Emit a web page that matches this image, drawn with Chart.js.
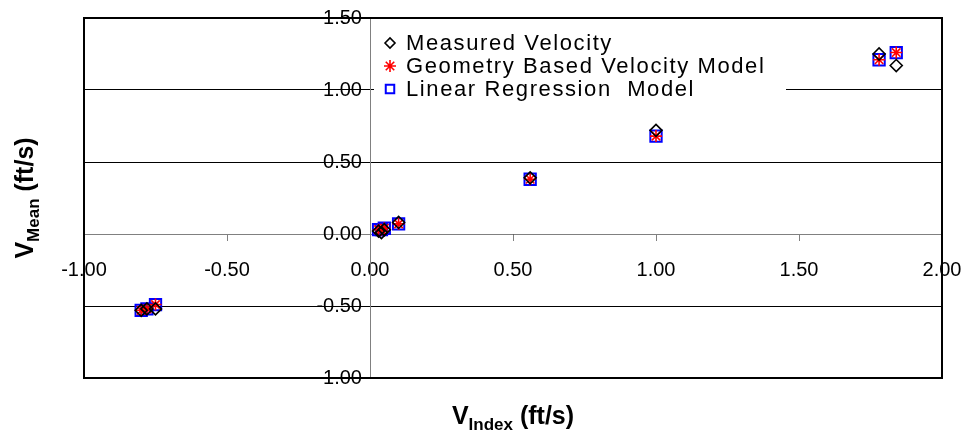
<!DOCTYPE html>
<html>
<head>
<meta charset="utf-8">
<script src="https://cdn.jsdelivr.net/npm/chart.js@4.4.0/dist/chart.umd.min.js"></script>
<style>
  html, body { margin: 0; padding: 0; background: #fff; }
  #wrap { width: 972px; height: 443px; }
</style>
</head>
<body>
<div id="wrap"><canvas id="c" width="972" height="443"></canvas></div>
<script>
// readings taken off the plot
const vIndex = [-0.80, -0.78, -0.75, 0.03, 0.04, 0.05, 0.10, 0.56, 1.00, 1.78, 1.84];
const measured = [-0.53, -0.52, -0.52, 0.02, 0.01, 0.03, 0.08, 0.39, 0.72, 1.25, 1.17];
const geometryModel = [-0.53, -0.52, -0.49, 0.03, 0.03, 0.04, 0.07, 0.38, 0.68, 1.21, 1.26];
const regressionModel = [-0.53, -0.52, -0.49, 0.03, 0.03, 0.04, 0.07, 0.38, 0.68, 1.21, 1.26];

const seriesNames = ['Measured Velocity', 'Geometry Based Velocity Model', 'Linear Regression  Model'];
const xTicks = [-1.0, -0.5, 0.0, 0.5, 1.0, 1.5, 2.0];
const yTicks = [-1.0, -0.5, 0.0, 0.5, 1.0, 1.5];

// pair up x and y readings
function pts(ys) {
  return vIndex.map((x, i) => ({ x: x, y: ys[i] }));
}

const FONT = '"Liberation Sans", Arial, sans-serif';

// keep label overflow from shrinking the plot area
function noPad(s) {
  s.paddingTop = 0; s.paddingBottom = 0; s.paddingLeft = 0; s.paddingRight = 0;
}

// frame round the plot, legend box and the two axis titles
const extras = {
  id: 'extras',
  afterDraw(chart) {
    const ctx = chart.ctx;
    const a = chart.chartArea;
    ctx.save();
    // plot frame
    ctx.strokeStyle = '#000';
    ctx.lineWidth = 2;
    ctx.strokeRect(a.left, a.top, a.right - a.left, a.bottom - a.top);

    // legend box
    ctx.fillStyle = '#fff';
    ctx.fillRect(374, 28, 412, 74);
    ctx.textBaseline = 'middle';
    ctx.textAlign = 'left';
    const rows = [43, 66, 89];
    chart.data.datasets.forEach((ds, i) => {
      const y = rows[i];
      ctx.fillStyle = 'rgba(0,0,0,0)';
      ctx.strokeStyle = ds.borderColor;
      ctx.lineWidth = ds.borderWidth;
      Chart.helpers.drawPoint(ctx, {
        pointStyle: ds.pointStyle,
        radius: ds.legendRadius,
        borderWidth: ds.borderWidth
      }, 390, y);
      ctx.fillStyle = '#000';
      ctx.font = '22px ' + FONT;
      ctx.letterSpacing = '1.6px';
      ctx.fillText(ds.label, 406, y + 1);
      ctx.letterSpacing = '0px';
    });

    // x axis title with subscript
    const midX = (a.left + a.right) / 2;
    const big = 'bold 25px ' + FONT;
    const small = 'bold 17px ' + FONT;
    ctx.fillStyle = '#000';
    ctx.textBaseline = 'alphabetic';
    ctx.font = big;
    const wV = ctx.measureText('V').width;
    const wT = ctx.measureText(' (ft/s)').width;
    ctx.font = small;
    const wS = ctx.measureText('Index').width;
    let x0 = midX - (wV + wS + wT) / 2;
    const base = 424;
    ctx.font = big; ctx.fillText('V', x0, base);
    ctx.font = small; ctx.fillText('Index', x0 + wV, base + 6);
    ctx.font = big; ctx.fillText(' (ft/s)', x0 + wV + wS, base);

    // y axis title, rotated
    const midY = (a.top + a.bottom) / 2;
    ctx.translate(33, midY);
    ctx.rotate(-Math.PI / 2);
    ctx.font = big;
    const wT2 = ctx.measureText(' (ft/s)').width;
    ctx.font = small;
    const wS2 = ctx.measureText('Mean').width;
    x0 = -(wV + wS2 + wT2) / 2;
    ctx.font = big; ctx.fillText('V', x0, 0);
    ctx.font = small; ctx.fillText('Mean', x0 + wV, 6);
    ctx.font = big; ctx.fillText(' (ft/s)', x0 + wV + wS2, 0);
    ctx.restore();
  }
};

const data = {
  datasets: [{
    label: seriesNames[0],
    data: pts(measured),
    pointStyle: 'rectRot',
    radius: 6,
    legendRadius: 5,
    borderColor: '#000',
    backgroundColor: 'rgba(0,0,0,0)',
    borderWidth: 1.6
  }, {
    label: seriesNames[1],
    data: pts(geometryModel),
    pointStyle: 'star',
    radius: 6,
    legendRadius: 6,
    borderColor: '#ff0000',
    backgroundColor: 'rgba(0,0,0,0)',
    borderWidth: 1.6
  }, {
    label: seriesNames[2],
    data: pts(regressionModel),
    pointStyle: 'rect',
    radius: 8,
    legendRadius: 6,
    borderColor: '#0000ff',
    backgroundColor: 'rgba(0,0,0,0)',
    borderWidth: 2
  }]
};

const config = {
  type: 'scatter',
  data: data,
  options: {
    responsive: false,
    animation: false,
    layout: { padding: { left: 84, right: 30, top: 18, bottom: 65 } },
    plugins: { legend: { display: false }, tooltip: { enabled: false } },
    scales: {
      x: {
        type: 'linear',
        position: { y: 0 },
        min: -1, max: 2,
        afterBuildTicks: (s) => { s.ticks = xTicks.map(v => ({ value: v })); },
        afterFit: noPad,
        ticks: {
          color: '#000',
          font: { family: FONT, size: 20 },
          padding: 18,
          maxRotation: 0,
          callback: (v) => v.toFixed(2)
        },
        grid: { drawOnChartArea: false, drawTicks: true, tickLength: 6, color: '#808080' },
        border: { color: '#808080', width: 1 }
      },
      y: {
        type: 'linear',
        position: { x: 0 },
        min: -1, max: 1.5,
        afterBuildTicks: (s) => { s.ticks = yTicks.map(v => ({ value: v })); },
        afterFit: noPad,
        ticks: {
          color: '#000',
          font: { family: FONT, size: 20 },
          // labels sit right against a value-positioned axis, so pad with thin spaces
          callback: (v) => v.toFixed(2) + '\u2009\u2009'
        },
        grid: { color: '#000', lineWidth: 1, tickLength: 6 },
        border: { color: '#808080', width: 1 }
      }
    }
  },
  plugins: [extras]
};

const chart = new Chart(document.getElementById('c'), config);
</script>
</body>
</html>
